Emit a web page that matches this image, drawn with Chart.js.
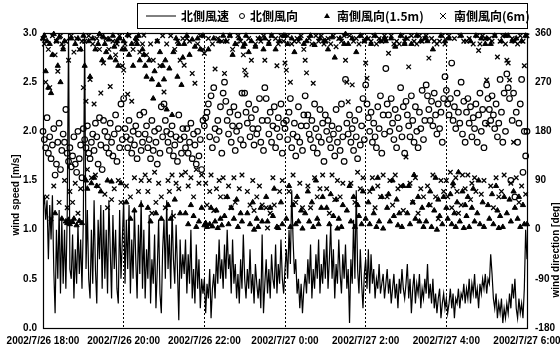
<!DOCTYPE html>
<html>
<head>
<meta charset="utf-8">
<script src="https://cdn.jsdelivr.net/npm/chart.js@4.4.1/dist/chart.umd.min.js"></script>
<style>
  body { margin: 0; background: #fff; }
</style>
</head>
<body>
<canvas id="chart" width="560" height="350"></canvas>
<script>
// tick labels (x axis every 2 hours, minutes from 18:00)
const timeLabels = ['2002/7/26 18:00', '2002/7/26 20:00', '2002/7/26 22:00', '2002/7/27 0:00',
                    '2002/7/27 2:00', '2002/7/27 4:00', '2002/7/27 6:00'];
const seriesNames = ['北側風速', '北側風向', '南側風向(1.5m)', '南側風向(6m)'];

// 北側風速 [m/s], 18:00 -> 6:00
const windSpeed = [
  1.2,1.35,1.1,1.3,0.7,1.25,0.9,1.35,0.6,0.15,1.0,0.5,1.2,0.35,1.1,
  0.45,1.0,0.4,1.15,3.0,0.6,0.5,0.95,0.3,0.8,0.45,1.05,0.55,0.9,0.4,
  1.1,3.0,0.6,1.2,0.5,0.3,1.0,0.45,1.3,0.6,0.25,1.1,0.7,1.25,0.4,
  1.2,0.5,1.0,0.35,1.3,0.8,0.3,1.15,0.6,1.0,0.4,0.25,1.2,0.5,0.9,
  1.3,0.45,1.1,0.6,1.25,0.35,0.9,0.5,1.2,0.7,0.3,1.05,0.55,1.3,0.4,
  1.0,0.3,0.8,0.5,1.15,0.25,0.7,0.45,0.95,0.2,0.6,1.1,0.35,0.15,0.8,
  1.1,0.5,1.3,0.6,0.95,0.4,1.2,0.7,0.45,1.05,0.6,0.08,0.9,0.5,0.75,
  0.55,0.9,0.35,0.75,0.45,1.0,0.3,0.6,0.25,0.85,0.4,0.7,0.2,0.5,0.35,
  0.5,0.15,0.45,0.3,0.6,0.1,0.4,0.55,0.3,0.75,0.45,0.9,0.5,0.7,0.4,
  0.85,0.5,1.0,0.6,0.75,0.35,0.9,0.45,0.65,0.3,0.55,0.25,0.7,0.4,0.95,
  0.5,0.3,0.6,0.4,0.8,0.35,0.55,0.25,0.65,0.45,0.3,0.5,0.2,0.95,0.15,
  0.45,0.7,0.35,0.6,0.3,0.75,0.5,0.4,0.85,0.35,0.65,0.45,0.9,0.5,0.35,
  0.6,0.8,0.5,1.0,0.65,1.4,0.9,0.55,0.7,0.35,0.5,0.2,0.45,0.15,0.4,
  0.55,0.35,0.7,0.45,0.85,0.3,0.6,0.4,0.75,0.5,0.9,0.35,0.65,0.45,0.8,
  0.5,0.95,0.4,0.7,1.05,0.5,0.8,0.3,0.65,0.45,0.9,0.55,0.35,0.75,0.5,
  0.85,0.4,0.6,0.05,0.7,0.45,1.1,0.5,1.4,0.6,0.35,0.8,0.45,0.2,0.55,
  0.7,0.4,0.8,0.35,0.75,0.45,0.6,0.3,0.5,0.4,0.65,0.35,0.45,0.55,0.3,
  0.45,0.6,0.35,0.5,0.25,0.4,0.55,0.3,0.45,0.2,0.5,0.35,0.6,0.4,0.3,
  0.45,0.65,0.3,0.5,0.15,0.4,0.55,0.25,0.45,0.35,0.55,0.2,0.4,0.3,0.5,
  0.35,0.65,0.3,0.45,0.25,0.5,0.2,0.35,0.15,0.3,0.4,0.1,0.25,0.35,0.2,
  0.3,0.15,0.25,0.4,0.2,0.35,0.1,0.3,0.25,0.4,0.2,0.35,0.3,0.45,0.25,
  0.4,0.3,0.5,0.25,0.45,0.35,0.55,0.3,0.4,0.2,0.45,0.35,0.5,0.4,0.55,
  0.35,0.5,0.45,0.75,0.55,0.3,0.2,0.35,0.1,0.25,0.15,0.3,0.05,0.2,0.1,
  0.25,0.15,0.35,0.2,0.45,0.3,0.5,0.2,0.1,0.3,0.15,0.25,0.1,0.4,1.0,
  0.7
];

// 北側風向 [deg]
const northDir = [
  180,165,150,205,140,170,130,155,185,100,120,160,195,110,145,
  175,160,220,140,125,150,115,135,170,120,105,180,130,155,95,
  185,165,150,190,140,130,160,175,145,195,170,120,205,155,110,
  200,180,150,170,140,195,160,135,175,210,125,185,150,230,165,
  240,185,170,150,200,165,140,180,155,190,130,175,210,145,160,
  215,175,190,150,165,130,200,145,180,160,120,185,140,225,170,
  230,200,180,160,145,175,190,135,155,170,125,210,165,140,185,
  170,150,185,140,160,195,130,175,155,120,180,135,165,110,200,
  190,205,215,230,170,245,150,260,185,165,200,180,225,140,250,
  270,235,200,175,215,160,190,225,145,180,210,190,165,250,155,
  250,215,195,230,170,205,185,155,220,175,185,240,160,200,145,
  260,240,200,175,215,160,190,225,150,185,205,170,230,140,195,
  185,200,165,215,240,150,175,195,135,170,225,160,190,145,210,
  245,190,210,175,165,200,150,230,185,140,170,220,160,195,125,
  210,180,200,165,150,190,175,135,220,160,185,145,230,170,125,
  275,195,175,210,160,185,145,200,170,130,220,155,190,240,165,
  265,230,205,180,215,160,195,170,150,225,185,245,140,210,175,
  295,230,210,180,240,195,165,220,150,205,185,260,170,225,140,
  235,210,190,170,245,200,160,225,180,150,215,185,255,165,200,
  265,245,220,200,235,190,250,210,175,230,185,215,160,240,280,
  255,230,210,240,305,200,225,185,250,215,195,270,175,235,160,
  215,240,195,225,170,205,185,230,160,210,250,180,220,150,195,
  265,240,220,200,245,210,185,230,170,195,275,215,160,250,180,
  285,260,240,90,200,250,60,215,160,195,230,275,105,180,135,
  180
];

// 南側風向(1.5m) [deg]
const southDirLow = [
  350,355,290,345,260,340,250,320,358,30,345,300,352,270,20,
  330,345,15,12,18,10,350,14,20,340,8,350,16,330,12,
  355,300,90,75,345,280,85,350,95,330,80,340,358,70,310,
  352,340,325,90,348,315,88,355,335,310,345,300,350,85,330,
  345,330,50,356,320,20,340,300,35,350,340,355,310,45,330,
  320,300,280,40,310,15,275,240,290,30,345,265,325,20,300,
  275,310,220,45,295,20,210,325,55,350,280,340,30,265,315,
  340,30,355,10,320,45,348,25,335,5,350,15,330,40,355,
  8,12,5,330,10,40,6,350,15,35,3,345,20,8,355,
  25,345,60,10,355,40,320,20,340,55,5,350,30,15,335,
  340,355,30,325,10,345,50,0,335,20,5,350,40,15,330,
  350,60,15,340,40,355,25,75,330,5,3,345,50,10,355,
  355,20,340,80,5,350,45,325,10,60,15,350,35,2,340,
  30,345,70,15,355,50,5,338,90,20,10,350,40,60,345,
  345,40,330,10,65,352,25,315,55,2,20,350,5,45,340,
  358,35,340,80,15,350,60,5,325,45,25,355,10,70,345,
  20,350,50,10,340,75,30,355,5,95,15,345,60,2,350,
  345,40,65,15,350,90,25,335,55,8,30,355,5,80,340,
  350,30,80,10,340,50,100,20,355,60,15,345,40,5,350,
  15,345,45,70,5,330,35,95,0,55,25,355,10,60,345,
  40,20,350,65,10,85,30,5,50,105,15,355,70,3,45,
  25,60,5,345,40,75,15,355,30,90,10,350,50,5,340,
  350,45,20,340,65,10,355,80,35,3,25,345,5,60,355,
  30,355,55,15,345,70,40,350,20,60,5,345,45,10,355,
  10
];

// 南側風向(6m) [deg]
const southDirHigh = [
  350,340,270,60,330,260,20,355,80,320,345,290,50,355,340,
  335,90,345,40,310,70,355,50,325,85,350,30,330,75,345,
  260,345,235,110,355,275,95,340,230,100,350,80,330,250,355,
  305,65,350,40,330,262,55,345,75,320,340,90,355,50,300,
  292,340,80,248,355,60,235,330,95,345,350,70,325,90,340,
  356,100,320,70,90,340,30,310,105,50,345,85,300,60,355,
  252,40,340,90,70,355,100,25,330,85,345,75,310,100,350,
  301,105,350,80,345,95,286,60,268,110,340,85,355,100,330,
  323,85,45,350,70,100,340,35,294,75,350,90,60,345,95,
  286,60,345,80,355,40,330,95,50,340,355,75,345,100,320,
  292,283,70,350,45,310,90,35,340,60,350,80,345,45,355,
  310,40,3,345,30,355,95,45,350,300,340,70,355,90,345,
  305,292,355,70,270,340,100,345,50,350,345,85,355,40,330,
  310,287,80,350,40,340,268,95,355,60,345,75,355,100,340,
  345,75,350,30,340,100,355,55,335,90,350,60,345,85,355,
  310,270,234,355,85,265,345,50,350,105,340,75,355,95,345,
  305,277,350,70,345,95,355,40,340,80,350,60,345,100,355,
  350,60,323,90,355,45,340,100,345,75,340,80,355,35,345,
  133,350,298,85,355,50,345,95,340,30,355,75,345,60,350,
  355,80,314,45,350,100,345,60,340,20,345,90,355,70,340,
  90,60,355,105,40,80,350,95,70,30,355,45,100,345,75,
  345,100,350,55,85,340,95,70,355,328,340,65,355,90,350,
  274,192,350,80,345,40,355,95,316,60,345,70,355,100,340,
  310,305,274,85,350,160,345,95,340,50,355,80,345,300,65,
  355
];

const spanMin = 720; // 18:00 -> 6:00

function toPoints(values) {
  const step = spanMin / (values.length - 1);
  return values.map((v, i) => ({x: i * step, y: v}));
}

const tickFont = {family: 'Liberation Sans', size: 10, weight: 'bold'};

// white background, frame, axis titles and boxed legend
const decorPlugin = {
  id: 'decor',
  beforeDraw(chart) {
    const ctx = chart.ctx;
    ctx.save();
    ctx.fillStyle = '#fff';
    ctx.fillRect(0, 0, chart.width, chart.height);
    ctx.restore();
  },
  afterDraw(chart) {
    const ctx = chart.ctx;
    const a = chart.chartArea;
    ctx.save();
    ctx.strokeStyle = '#000';
    ctx.lineWidth = 1.2;
    ctx.strokeRect(a.left + 0.5, a.top + 0.5, a.right - a.left, a.bottom - a.top);

    // axis titles
    ctx.fillStyle = '#000';
    ctx.font = 'bold 10px "Liberation Sans"';
    ctx.textAlign = 'center';
    ctx.textBaseline = 'middle';
    ctx.save();
    ctx.translate(16, 195);
    ctx.rotate(-Math.PI / 2);
    ctx.fillText('wind speed [m/s]', 0, 0);
    ctx.restore();
    ctx.save();
    ctx.translate(556, 250);
    ctx.rotate(-Math.PI / 2);
    ctx.fillText('wind direction [deg]', 0, 0);
    ctx.restore();

    // legend
    ctx.lineWidth = 1;
    ctx.strokeRect(137.5, 3.5, 390, 25);
    const ly = 16;
    ctx.beginPath();
    ctx.moveTo(146, ly);
    ctx.lineTo(176, ly);
    ctx.stroke();
    ctx.beginPath();
    ctx.arc(242, ly, 2.5, 0, Math.PI * 2);
    ctx.stroke();
    ctx.beginPath();
    ctx.moveTo(327, ly - 3);
    ctx.lineTo(330, ly + 2);
    ctx.lineTo(324, ly + 2);
    ctx.closePath();
    ctx.fill();
    ctx.beginPath();
    ctx.moveTo(440, ly - 3); ctx.lineTo(446, ly + 3);
    ctx.moveTo(446, ly - 3); ctx.lineTo(440, ly + 3);
    ctx.stroke();
    ctx.font = 'bold 12px "Noto Sans CJK JP"';
    ctx.textAlign = 'left';
    [181, 250, 337, 454].forEach((x, i) => ctx.fillText(seriesNames[i], x, ly));
    ctx.restore();
  }
};

new Chart(document.getElementById('chart'), {
  type: 'scatter',
  data: {
    datasets: [
      {
        label: seriesNames[0],
        data: toPoints(windSpeed),
        yAxisID: 'y',
        showLine: true,
        borderColor: '#000',
        borderWidth: 1.2,
        pointRadius: 0,
        tension: 0
      },
      {
        label: seriesNames[1],
        data: toPoints(northDir),
        yAxisID: 'y2',
        pointStyle: 'circle',
        pointRadius: 2.8,
        borderColor: '#000',
        backgroundColor: 'rgba(255,255,255,0)',
        borderWidth: 1.2,
        clip: 4
      },
      {
        label: seriesNames[2],
        data: toPoints(southDirLow),
        yAxisID: 'y2',
        pointStyle: 'triangle',
        pointRadius: 3,
        borderColor: '#000',
        backgroundColor: '#000',
        borderWidth: 1,
        clip: 4
      },
      {
        label: seriesNames[3],
        data: toPoints(southDirHigh),
        yAxisID: 'y2',
        pointStyle: 'crossRot',
        pointRadius: 3.2,
        borderColor: '#000',
        borderWidth: 1.3,
        clip: 4
      }
    ]
  },
  options: {
    responsive: false,
    animation: false,
    devicePixelRatio: 1,
    layout: {padding: {top: 33, left: 0, right: 0, bottom: 0}},
    plugins: {legend: {display: false}, tooltip: {enabled: false}},
    scales: {
      x: {
        type: 'linear',
        min: 0,
        max: spanMin,
        afterFit(s) { s.height = 22; s.paddingLeft = 0; s.paddingRight = 0; },
        ticks: {
          stepSize: 120,
          autoSkip: false,
          maxRotation: 0,
          padding: 7,
          color: '#000',
          font: tickFont,
          callback: v => timeLabels[v / 120]
        },
        grid: {
          drawTicks: false,
          lineWidth: 1,
          color: c => (c.index === 0 || c.index === timeLabels.length - 1) ? 'rgba(0,0,0,0)' : '#000'
        },
        border: {display: false, dash: [2, 2]}
      },
      y: {
        position: 'left',
        min: 0,
        max: 3,
        afterFit(s) { s.width = 43; },
        ticks: {stepSize: 0.5, padding: 6, color: '#000', font: tickFont, callback: v => v.toFixed(1)},
        grid: {display: false, drawTicks: false},
        border: {display: false}
      },
      y2: {
        position: 'right',
        min: -180,
        max: 360,
        afterFit(s) { s.width = 33; },
        ticks: {stepSize: 90, padding: 8, color: '#000', font: tickFont},
        grid: {display: false, drawTicks: false},
        border: {display: false}
      }
    }
  },
  plugins: [decorPlugin]
});
</script>
</body>
</html>
